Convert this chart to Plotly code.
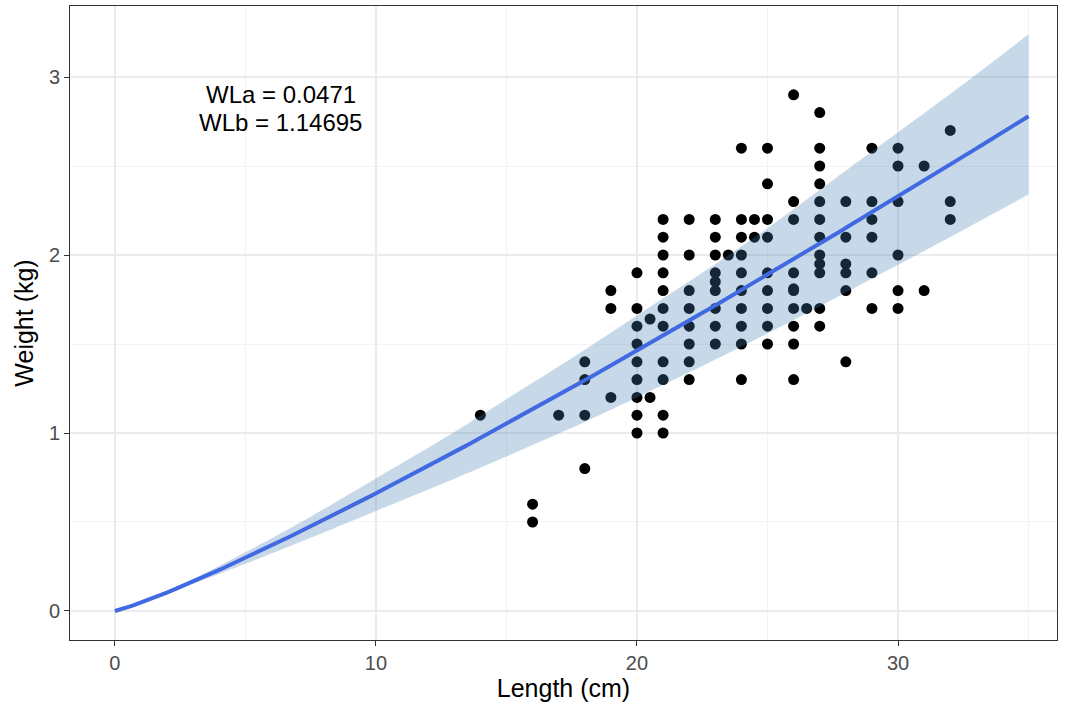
import numpy as np
import plotly.graph_objects as go

# Observed fish: length (cm) and weight (kg)
length_cm = [
    14, 16, 16, 17, 18, 18, 18, 18,
    19, 19, 19,
    20, 20, 20, 20, 20, 20, 20, 20, 20,
    20.5, 20.5,
    21, 21, 21, 21, 21, 21, 21, 21, 21, 21, 21,
    22, 22, 22, 22, 22, 22, 22, 22,
    23, 23, 23, 23, 23, 23, 23, 23, 23,
    23.5,
    24, 24, 24, 24, 24, 24, 24, 24, 24, 24,
    24.5, 24.5,
    25, 25, 25, 25, 25, 25, 25, 25, 25,
    26, 26, 26, 26, 26, 26, 26, 26, 26, 26,
    26.5,
    27, 27, 27, 27, 27, 27, 27, 27, 27, 27, 27, 27,
    28, 28, 28, 28, 28, 28,
    29, 29, 29, 29, 29, 29,
    30, 30, 30, 30, 30, 30,
    31, 31,
    32, 32, 32,
]
weight_kg = [
    1.1, 0.6, 0.5, 1.1, 1.4, 1.3, 1.1, 0.8,
    1.8, 1.7, 1.2,
    1.9, 1.7, 1.6, 1.5, 1.4, 1.3, 1.2, 1.1, 1.0,
    1.64, 1.2,
    2.2, 2.1, 2.0, 1.9, 1.8, 1.7, 1.6, 1.4, 1.3, 1.1, 1.0,
    2.2, 2.0, 1.8, 1.7, 1.6, 1.5, 1.4, 1.3,
    2.2, 2.1, 2.0, 1.9, 1.85, 1.8, 1.7, 1.6, 1.5,
    2.0,
    2.6, 2.2, 2.1, 2.0, 1.9, 1.8, 1.7, 1.6, 1.5, 1.3,
    2.2, 2.1,
    2.6, 2.4, 2.2, 2.1, 1.9, 1.8, 1.7, 1.6, 1.5,
    2.9, 2.3, 2.2, 1.9, 1.8, 1.7, 1.6, 1.5, 1.3, 1.81,
    1.7,
    2.8, 2.6, 2.5, 2.4, 2.3, 2.2, 2.1, 2.0, 1.95, 1.9, 1.7, 1.6,
    2.3, 2.1, 1.95, 1.9, 1.8, 1.4,
    2.6, 2.3, 2.2, 2.1, 1.9, 1.7,
    2.6, 2.5, 2.3, 2.0, 1.8, 1.7,
    2.5, 1.8,
    2.7, 2.3, 2.2,
]

# Fitted weight-length parameters: W = WLa * L ^ WLb
WLa = 0.0471
WLb = 1.14695

# Confidence band of the fit, sampled along length
band_length = [0, 2.5, 5, 7.5, 10, 12.5, 15, 17.5, 20, 22.5, 25, 27.5, 30, 32.5, 35]
band_upper = [0, 0.145, 0.33, 0.53, 0.745, 0.96, 1.19, 1.42, 1.66, 1.90, 2.15, 2.42, 2.69, 2.96, 3.24]
band_lower = [0, 0.125, 0.265, 0.411, 0.562, 0.712, 0.868, 1.029, 1.20, 1.376, 1.559, 1.75, 1.945, 2.141, 2.34]

fit_length = np.linspace(0, 35, 300)
fit_weight = WLa * fit_length ** WLb

FONT = "Liberation Sans, Arial, sans-serif"

fig = go.Figure()

fig.add_trace(go.Scatter(
    x=length_cm, y=weight_kg, mode="markers",
    marker=dict(color="black", size=11, line=dict(width=0)),
    hoverinfo="x+y", showlegend=False,
))

# ribbon: lower edge, then upper edge filled down to it
fig.add_trace(go.Scatter(
    x=band_length, y=band_lower, mode="lines",
    line=dict(width=0, shape="spline", smoothing=0.8),
    hoverinfo="skip", showlegend=False,
))
fig.add_trace(go.Scatter(
    x=band_length, y=band_upper, mode="lines",
    line=dict(width=0, shape="spline", smoothing=0.8),
    fill="tonexty", fillcolor="rgba(70,130,180,0.3)",
    hoverinfo="skip", showlegend=False,
))

fig.add_trace(go.Scatter(
    x=fit_length, y=fit_weight, mode="lines",
    line=dict(color="#4169E1", width=4),
    hoverinfo="skip", showlegend=False,
))

for txt, yv in [(f"WLa = {WLa}", 2.904), (f"WLb = {WLb}", 2.747)]:
    fig.add_annotation(
        x=6.36, y=yv, xref="x", yref="y", text=txt,
        showarrow=False, xanchor="center", yanchor="middle",
        font=dict(family=FONT, size=24, color="black"),
    )

axis_common = dict(
    showline=True, linecolor="#333333", linewidth=1, mirror=True,
    ticks="outside", ticklen=5, tickcolor="#333333", tickwidth=1.3,
    gridcolor="#EBEBEB", gridwidth=1.6,
    minor=dict(showgrid=True, gridcolor="#F3F3F3", gridwidth=0.8),
    zeroline=False,
    tickfont=dict(family=FONT, size=20, color="#4D4D4D"),
)

fig.update_xaxes(
    **axis_common,
    range=[-1.72, 36.09], tickvals=[0, 10, 20, 30],
    minor_tickvals=[5, 15, 25, 35],
    title=dict(text="Length (cm)", standoff=6,
               font=dict(family=FONT, size=25, color="black")),
)
fig.update_yaxes(
    **axis_common,
    range=[-0.163, 3.399], tickvals=[0, 1, 2, 3],
    minor_tickvals=[0.5, 1.5, 2.5],
    title=dict(text="Weight (kg)", standoff=8,
               font=dict(family=FONT, size=25, color="black")),
)

fig.update_layout(
    width=1067, height=706,
    margin=dict(l=70, r=10, t=6, b=66),
    plot_bgcolor="white", paper_bgcolor="white",
    showlegend=False,
)

fig.write_html("out.html")
